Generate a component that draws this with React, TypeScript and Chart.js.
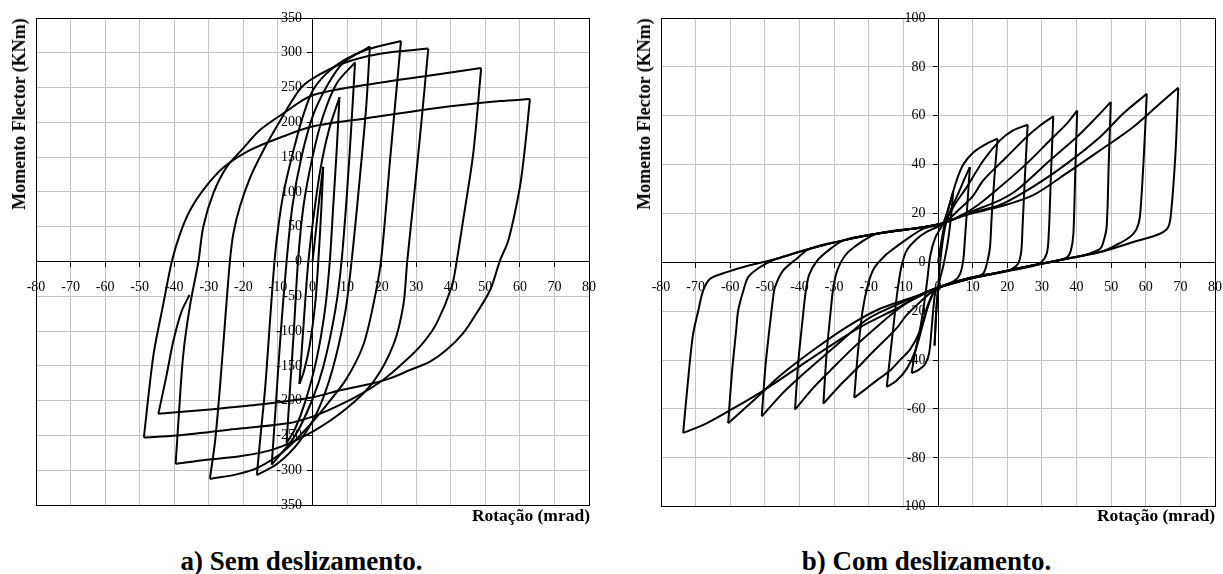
import React, { useEffect, useRef } from 'react';
import { Chart, registerables } from 'chart.js';

Chart.register(...registerables);

type Pt = [number, number];

// ---------- axis ticks ----------
const xTickValues = [-80, -70, -60, -50, -40, -30, -20, -10, 0, 10, 20, 30, 40, 50, 60, 70, 80];
const aYTickValues = [-350, -300, -250, -200, -150, -100, -50, 0, 50, 100, 150, 200, 250, 300, 350];
const bYTickValues = [-100, -80, -60, -40, -20, 0, 20, 40, 60, 80, 100];

const xAxisTitle = 'Rotação (mrad)';
const yAxisTitle = 'Momento Flector (KNm)';
const captionA = 'a) Sem deslizamento.';
const captionB = 'b) Com deslizamento.';

// ---------- chart a: sem deslizamento (rotation mrad, moment kNm) ----------
const aLoad1: Pt[] = [[0, 0], [1, 45], [2, 92], [3.1, 136]];
const aUnload1: Pt[] = [[3.1, 136], [2.6, 80], [1.8, 10], [0.8, -60], [-0.8, -120], [-2.5, -158], [-3.8, -176]];
const aLoad2: Pt[] = [[-3.8, -176], [-3.0, -120], [-2.0, -50], [-1.2, 0], [0.2, 60], [2.2, 130], [4.8, 190], [7.8, 236]];
const aUnload2: Pt[] = [[7.8, 236], [7.0, 160], [6.0, 80], [5.0, 0], [3.6, -70], [1.2, -140], [-2, -200], [-5, -240], [-7.5, -261]];
const aLoad3: Pt[] = [[-7.5, -261], [-6.6, -190], [-5.4, -100], [-4.2, 0], [-2.6, 80], [0, 150], [3, 208], [7, 256], [12.3, 286]];
const aUnload3: Pt[] = [[12.3, 286], [11.3, 200], [10, 100], [8.4, 0], [6.6, -70], [3.2, -150], [0, -198], [-5, -250], [-11.8, -292]];
const aLoad4: Pt[] = [[-11.8, -292], [-10.8, -220], [-9.3, -110], [-7.5, 0], [-5.8, 80], [-3.2, 150], [0, 208], [4.5, 255], [9, 286], [16.6, 309]];
const aUnload4: Pt[] = [[16.6, 309], [15.5, 220], [13.5, 110], [11.3, 0], [9.4, -75], [5.8, -155], [1.5, -215], [-4, -260], [-10, -290], [-16.1, -307]];
const aLoad5: Pt[] = [[-16.1, -307], [-15.2, -259], [-13.7, -182], [-12.3, -86], [-11, 0], [-9.9, 50], [-8.4, 98], [-6, 150], [-3, 205], [0, 245], [4, 270], [9, 289], [16, 305], [25.6, 317]];
const aUnload5: Pt[] = [[25.6, 317], [22.6, 155], [19.8, 0], [17.6, -62], [14.7, -120], [9.9, -168], [4.1, -206], [-1.7, -240], [-8.4, -273], [-16.1, -297], [-22, -306], [-29.7, -312.5]];
const aLoad6: Pt[] = [[-29.7, -312.5], [-28.2, -259], [-26.8, -182], [-25.3, -86], [-23.9, 0], [-22.9, 40], [-21, 79], [-18.1, 120], [-14.2, 160], [-9.4, 202], [-3.6, 248], [0, 263], [8.9, 285], [20, 299], [33.5, 306]];
const aUnload6: Pt[] = [[33.5, 306], [31.5, 200], [29.5, 100], [27.4, 0], [26.3, -62], [23.4, -120], [17.6, -173], [9.9, -211], [0.2, -244], [-11.3, -270], [-21, -280], [-30.6, -285], [-39.6, -291]];
const aLoad7: Pt[] = [[-39.6, -291], [-38.8, -230], [-37.4, -134], [-35.4, -62], [-33, 0], [-31.6, 50], [-28.7, 98], [-24.8, 136], [-20, 163], [-15.2, 189], [-8.4, 213], [0, 239], [15.7, 254], [35, 268], [48.8, 278]];
const aUnload7: Pt[] = [[48.8, 278], [46.5, 155], [43.6, 60], [41.7, 0], [40.3, -36], [35.9, -89], [32, -117], [27.3, -141], [20.5, -170], [12.8, -194], [5, -213], [0, -223], [-6.5, -232], [-21, -240], [-39.3, -250], [-48.8, -253]];
const aLoad8: Pt[] = [[-48.8, -253], [-46, -134], [-43.2, -62], [-40.7, 0], [-38.3, 40], [-35.4, 74], [-31.6, 103], [-25.8, 135], [-18.1, 160], [-8.4, 180], [0, 194], [15.7, 206], [35, 220], [54.3, 230.6], [62.9, 233.5]];
const aUnload8: Pt[] = [[62.9, 233.5], [61.5, 165], [60, 107], [56.7, 31], [54.3, 2], [51.4, -41], [47.5, -74], [43.6, -103], [38.8, -127], [34, -144], [28.2, -156], [22.4, -168], [17.6, -175], [8, -185], [0.2, -195], [-16.1, -206], [-30.6, -213], [-44.6, -219]];
const aLoad9: Pt[] = [[-44.6, -219], [-42.2, -163], [-40.3, -115], [-37.9, -72], [-35.6, -48]];

const aBranches: Pt[][] = [
  aLoad1, aUnload1, aLoad2, aUnload2, aLoad3, aUnload3, aLoad4, aUnload4, aLoad5,
  aUnload5, aLoad6, aUnload6, aLoad7, aUnload7, aLoad8, aUnload8, aLoad9,
];

// ---------- chart b: com deslizamento ----------
const bLoad1: Pt[] = [[0, 0], [0.8, 7], [1.8, 15], [3, 22], [4.4, 29]];
const bUnload1: Pt[] = [[4.4, 29], [3.7, 18], [2.8, 8], [1.6, -1], [0.4, -8], [-0.3, -16], [-0.7, -26], [-1, -34]];
const bLoad2: Pt[] = [[-1, -34], [-0.6, -22], [0, -11], [0.7, 1], [1.5, 10], [2.5, 17], [4, 22.5], [5.8, 28], [7.6, 34], [9.2, 39]];
const bUnload2: Pt[] = [[9.2, 39], [8.5, 24], [7.8, 10], [7.3, 1], [6.3, -5], [4.5, -7.8], [2, -9.3], [-0.4, -10.8], [-1.2, -17], [-1.9, -28], [-2.6, -37.5], [-3.8, -41.8], [-5.6, -44], [-7.6, -45.3]];
const bLoad3: Pt[] = [[-7.6, -45.3], [-6.8, -38], [-5.2, -27.5], [-3.9, -16], [-3, -6], [-2.2, 3], [-0.8, 10], [1.5, 16], [3, 22], [4.6, 30], [6, 36], [7.5, 40.5], [10.2, 45], [14.1, 48.6], [17.2, 50.6]];
const bUnload3: Pt[] = [[17.2, 50.6], [16.3, 35], [15.5, 18.5], [15, 6], [14.2, 0], [13.1, -4.5], [10.5, -6.3], [8.3, -7], [4, -8.8], [-0.4, -10.8], [-2.5, -16.5], [-4.5, -26], [-6.5, -36], [-9, -43.5], [-12, -48.5], [-14.8, -51]];
const bLoad4: Pt[] = [[-14.8, -51], [-13.8, -38], [-12.7, -24], [-11.8, -12.8], [-10.6, -2], [-9, 5], [-6, 9.8], [-3.3, 12.5], [1.5, 16], [5, 24], [8.3, 30.8], [13.1, 41.7], [17.9, 49.9], [21.7, 54], [25.9, 56.3]];
const bUnload4: Pt[] = [[25.9, 56.3], [25.1, 35], [24.4, 14], [24, 4], [23, -0.8], [21, -3], [17.9, -4.2], [8.3, -7], [-0.4, -10.8], [-2.8, -17], [-5.2, -28], [-8, -35.5], [-11, -40], [-14, -44.5], [-17.7, -48.3], [-21, -52], [-24.2, -55.4]];
const bLoad5: Pt[] = [[-24.2, -55.4], [-23.2, -38], [-21.8, -20], [-20.2, -9], [-18.5, -2.5], [-15.5, 2.5], [-12.9, 5.5], [-9, 9.5], [-4.2, 13.8], [1.5, 16], [6, 21.5], [10, 27], [13.1, 33.6], [19.8, 43.1], [25.6, 51.3], [29.5, 56], [33.3, 59.8]];
const bUnload5: Pt[] = [[33.3, 59.8], [32.6, 35], [32, 12], [31.4, 3.6], [29.5, -0.5], [27.5, -1.5], [17.9, -4.2], [8.3, -7], [-0.4, -10.8], [-5, -16], [-9, -21.5], [-12, -27], [-18.7, -36.5], [-24.5, -45], [-28.4, -50.5], [-33.1, -57.8]];
const bLoad6: Pt[] = [[-33.1, -57.8], [-32.2, -38], [-31, -20], [-30.2, -10], [-29, -3], [-27, 2.5], [-24, 6.5], [-17.7, 11.7], [-4.2, 14.4], [1.5, 16], [8.3, 20.5], [12.5, 24.5], [17.9, 30.8], [25.6, 40.4], [32.3, 49.9], [37.2, 56.8], [40.2, 62.2]];
const bUnload6: Pt[] = [[40.2, 62.2], [39.6, 35], [39.1, 11.7], [38.4, 5], [37.2, 2], [33, 0.2], [27.5, -1.2], [17.9, -4], [8.3, -6.8], [-0.4, -10.6], [-7.2, -15], [-11.4, -19], [-16.8, -25.3], [-24.5, -35], [-31.2, -44.4], [-36.1, -51.5], [-41.3, -60.3]];
const bLoad7: Pt[] = [[-41.3, -60.3], [-40.3, -40], [-39, -22], [-38.2, -12], [-37.2, -5], [-35, 0.5], [-32, 4.5], [-27.3, 9], [-17.7, 11.7], [-4.2, 14.4], [1.5, 16], [8.3, 20], [17.9, 25.5], [22.7, 29.5], [32.3, 41.7], [40.1, 51.3], [44.9, 58.1], [49.9, 65.6]];
const bUnload7: Pt[] = [[49.9, 65.6], [49.3, 40], [48.7, 14.5], [47.8, 8.5], [46.8, 5.5], [42, 2.8], [37.2, 1.5], [27.5, -1.2], [17.9, -4], [8.3, -6.7], [-0.4, -10.5], [-7.2, -14.5], [-16.8, -20.5], [-21.6, -24.5], [-31.2, -36.2], [-39, -45.8], [-44.5, -53], [-50.9, -63]];
const bLoad8: Pt[] = [[-50.9, -63], [-49.8, -42], [-48.5, -25], [-47.6, -14.2], [-47.1, -10.1], [-44.7, -3.3], [-40.8, 1.5], [-37, 5.6], [-27.3, 9], [-17.7, 11.7], [-4.2, 14.4], [1.5, 16], [8.3, 19.8], [17.9, 23.5], [27.5, 31], [37.2, 40.4], [46.8, 51.3], [53.5, 60.9], [60.3, 69]];
const bUnload8: Pt[] = [[60.3, 69], [59.5, 45], [58.3, 18.5], [57.3, 13.5], [55.5, 10.5], [51.6, 7.2], [46.8, 4.2], [37.2, 1.5], [27.5, -1.2], [17.9, -4], [8.3, -6.7], [-0.4, -10.5], [-7.2, -14.3], [-16.8, -19], [-26.4, -26.5], [-36.1, -36], [-45.7, -46.5], [-52.4, -55.4], [-60.6, -65.8]];
const bLoad9: Pt[] = [[-60.6, -65.8], [-59.5, -45], [-58.3, -28], [-57.7, -19.6], [-56.2, -11.5], [-54.8, -6], [-52, -2.5], [-48.5, 0.3], [-46.6, 1.5], [-37, 5.6], [-27.3, 9], [-17.7, 11.7], [-4.2, 14.4], [1.5, 16], [8.3, 19.5], [17.9, 22.8], [27.5, 27.5], [37.2, 36.5], [46.8, 45.8], [56.4, 55.4], [64.1, 65], [69.4, 71.5]];
const bUnload9: Pt[] = [[69.4, 71.5], [68.6, 45], [67.3, 20], [66.5, 14.5], [64.1, 11.7], [56.4, 8.3], [46.8, 4.2], [37.2, 1.5], [27.5, -1.2], [17.9, -4], [8.3, -6.7], [-0.4, -10.5], [-8, -15.8], [-12.9, -19.6], [-22.5, -26.5], [-32, -35], [-41.5, -44], [-51, -53], [-60, -60.5], [-67, -66], [-73.6, -69.8]];
const bLoad10: Pt[] = [[-73.6, -69.8], [-72.3, -50], [-70.8, -30], [-69.2, -19.6], [-67.8, -11.5], [-65.8, -6.7], [-61, -4], [-56.2, -1.9], [-46.6, 1.5], [-37, 5.6], [-27.3, 9], [-17.7, 11.7], [-4.2, 14.4], [1.5, 16]];

const bBranches: Pt[][] = [
  bLoad1, bUnload1, bLoad2, bUnload2, bLoad3, bUnload3, bLoad4, bUnload4, bLoad5, bUnload5,
  bLoad6, bUnload6, bLoad7, bUnload7, bLoad8, bUnload8, bLoad9, bUnload9, bLoad10,
];

const FONT = '"Liberation Serif", "Times New Roman", serif';
const TICK_FONT_SIZE = 14;

const framePlugin = {
  id: 'frameBox',
  beforeDatasetsDraw(chart: any) {
    const { ctx, chartArea } = chart;
    const al = (p: number) => Math.round(p - 0.5) + 0.5;
    const l = al(chartArea.left);
    const t = al(chartArea.top);
    const r = al(chartArea.right);
    const b = al(chartArea.bottom);
    ctx.save();
    ctx.strokeStyle = '#000';
    ctx.lineWidth = 1;
    ctx.strokeRect(l, t, r - l, b - t);
    ctx.restore();
  },
};

// y tick labels of the axis that crosses at x = 0, written left of that axis
const yLabelPlugin = {
  id: 'yLabels',
  beforeDatasetsDraw(chart: any, _args: any, opts: any) {
    const ys = chart.scales.y;
    const xs = chart.scales.x;
    if (!ys || !xs) return;
    const gap = (opts && opts.gap) || 10;
    const x0 = xs.getPixelForValue(0);
    const { ctx } = chart;
    ctx.save();
    ctx.font = `${TICK_FONT_SIZE}px ${FONT}`;
    ctx.fillStyle = '#000';
    ctx.textAlign = 'right';
    ctx.textBaseline = 'middle';
    ys.ticks.forEach((t: any) => {
      ctx.fillText(String(t.value), x0 - gap, ys.getPixelForValue(t.value));
    });
    ctx.restore();
  },
};

type PanelProps = {
  branches: Pt[][];
  yTicks: number[];
  yLabelGap: number;
  width: number;
  height: number;
  left: number;
  padding: { left: number; right: number; top: number; bottom: number };
};

function Panel({ branches, yTicks, yLabelGap, width, height, left, padding }: PanelProps) {
  const ref = useRef<HTMLCanvasElement | null>(null);
  useEffect(() => {
    const canvas = ref.current;
    if (!canvas) return;
    const zeroPad = (s: any) => {
      s.paddingLeft = 0;
      s.paddingRight = 0;
      s.paddingTop = 0;
      s.paddingBottom = 0;
    };
    const chart = new Chart(canvas, {
      type: 'scatter',
      data: {
        datasets: branches.map((br, i) => ({
          label: 'c' + i,
          data: br.map(([x, y]) => ({ x, y })),
          showLine: true,
          borderColor: '#000',
          backgroundColor: '#000',
          borderWidth: 2,
          pointRadius: 0,
          pointHoverRadius: 0,
          tension: 0.3,
          fill: false,
        })),
      },
      options: {
        responsive: false,
        maintainAspectRatio: false,
        animation: false,
        events: [],
        layout: { padding },
        plugins: {
          legend: { display: false },
          tooltip: { enabled: false },
          title: { display: false },
          yLabels: { gap: yLabelGap },
        },
        scales: {
          x: {
            type: 'linear',
            min: xTickValues[0],
            max: xTickValues[xTickValues.length - 1],
            position: { y: 0 } as any,
            afterBuildTicks: (s: any) => {
              s.ticks = xTickValues.map((v) => ({ value: v }));
            },
            afterFit: zeroPad,
            ticks: {
              autoSkip: false,
              maxRotation: 0,
              minRotation: 0,
              color: '#000',
              padding: 12,
              font: { family: FONT, size: TICK_FONT_SIZE },
              callback: (v: any) => String(v),
            },
            grid: { color: '#c4c4c4', lineWidth: 1, tickLength: 5, tickColor: '#000', tickWidth: 1 },
            border: { display: true, color: '#000', width: 1 },
          },
          y: {
            type: 'linear',
            min: yTicks[0],
            max: yTicks[yTicks.length - 1],
            position: { x: 0 } as any,
            afterBuildTicks: (s: any) => {
              s.ticks = yTicks.map((v) => ({ value: v }));
            },
            afterFit: zeroPad,
            ticks: {
              display: false,
              autoSkip: false,
            },
            grid: { color: '#c4c4c4', lineWidth: 1, tickLength: 5, tickColor: '#000', tickWidth: 1, drawTicks: true },
            border: { display: true, color: '#000', width: 1 },
          },
        },
      } as any,
      plugins: [framePlugin, yLabelPlugin],
    });
    return () => chart.destroy();
  }, [branches, yTicks, yLabelGap, width, height]);
  return (
    <canvas
      ref={ref}
      width={width}
      height={height}
      style={{ position: 'absolute', left, top: 0, width, height, display: 'block' }}
    />
  );
}

const yTitleStyle: React.CSSProperties = {
  position: 'absolute',
  top: 113.5,
  transform: 'translate(-50%, -50%) rotate(-90deg)',
  whiteSpace: 'nowrap',
  font: `bold 18px ${FONT}`,
  lineHeight: '18px',
  color: '#000',
};

const xTitleStyle: React.CSSProperties = {
  position: 'absolute',
  top: 506.8,
  whiteSpace: 'nowrap',
  font: `bold 17.5px ${FONT}`,
  lineHeight: '17.5px',
  color: '#000',
  textAlign: 'right',
};

const captionStyle: React.CSSProperties = {
  position: 'absolute',
  top: 547.6,
  transform: 'translateX(-50%)',
  whiteSpace: 'nowrap',
  font: `bold 27px ${FONT}`,
  lineHeight: '27px',
  color: '#000',
};

export default function App() {
  return (
    <div
      style={{
        position: 'absolute',
        left: 0,
        top: 0,
        width: 1223,
        height: 574,
        overflow: 'hidden',
        background: '#fff',
      }}
    >
      <Panel
        branches={aBranches}
        yTicks={aYTickValues}
        yLabelGap={10.5}
        width={610}
        height={540}
        left={0}
        padding={{ left: 36, right: 21, top: 18, bottom: 35 }}
      />
      <Panel
        branches={bBranches}
        yTicks={bYTickValues}
        yLabelGap={12.5}
        width={613}
        height={540}
        left={610}
        padding={{ left: 51, right: 8, top: 18, bottom: 33.3 }}
      />
      <div style={{ ...yTitleStyle, left: 18.8 }}>{yAxisTitle}</div>
      <div style={{ ...yTitleStyle, left: 644 }}>{yAxisTitle}</div>
      <div style={{ ...xTitleStyle, right: 1223 - 590 }}>{xAxisTitle}</div>
      <div style={{ ...xTitleStyle, right: 1223 - 1215 }}>{xAxisTitle}</div>
      <div style={{ ...captionStyle, left: 301.5 }}>{captionA}</div>
      <div style={{ ...captionStyle, left: 926.5 }}>{captionB}</div>
    </div>
  );
}
